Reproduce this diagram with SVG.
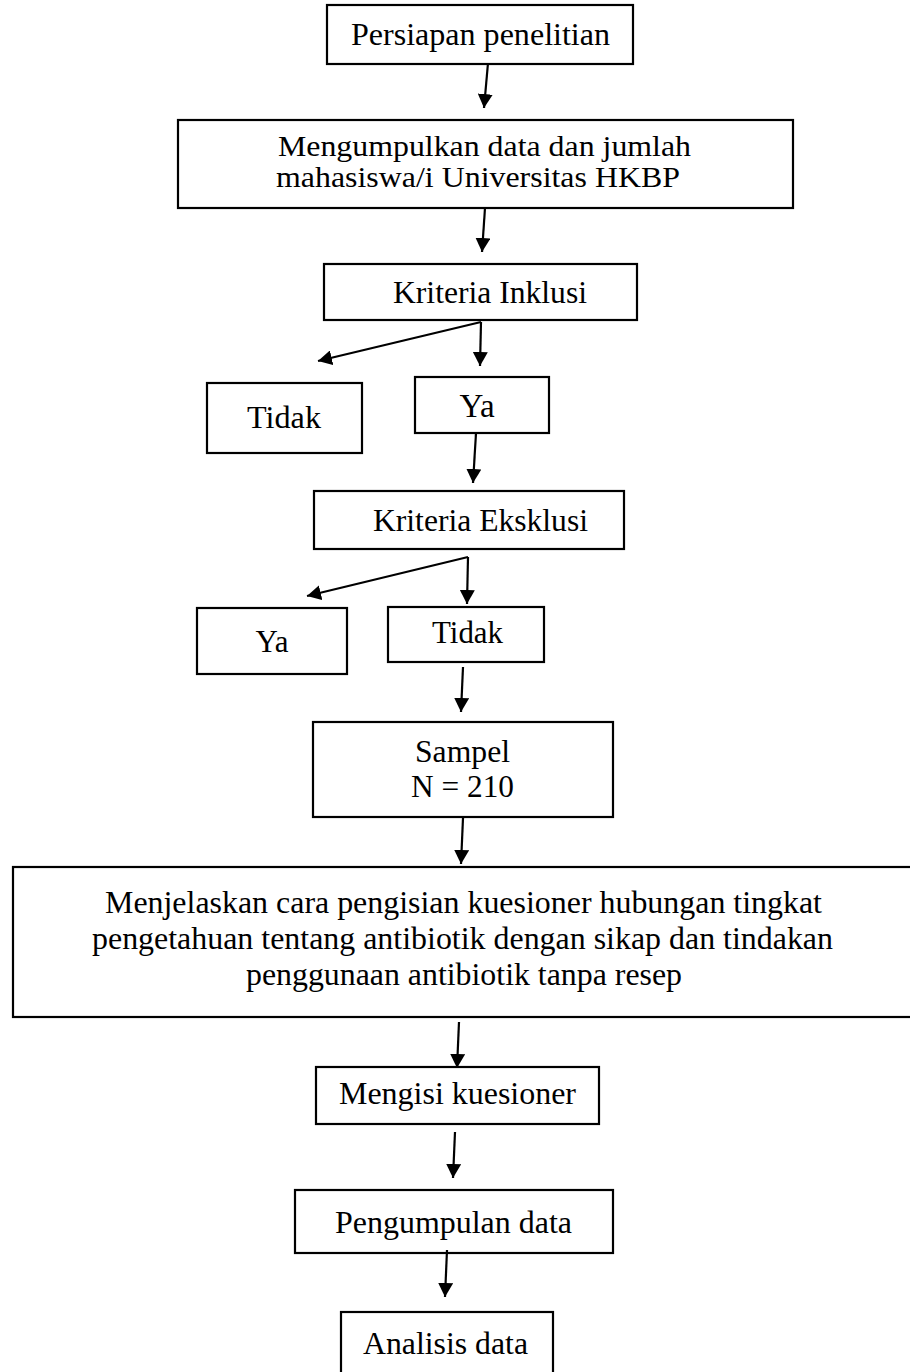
<svg xmlns="http://www.w3.org/2000/svg" width="910" height="1372" viewBox="0 0 910 1372">
<style>
.box{fill:#fff;stroke:#000;stroke-width:2.2}
.t{font-family:'Liberation Serif','Times New Roman',Times,serif;font-size:31px;fill:#000}
.s{font-size:29px}
.m{text-anchor:middle}
.c{fill:none;stroke:#000;stroke-width:2.2}
</style>
<defs>
<marker id="ah" viewBox="0 0 14 15" refX="14" refY="7.5" markerWidth="14" markerHeight="15" orient="auto" markerUnits="userSpaceOnUse">
<path d="M0,0 L14,7.5 L0,15 z" fill="#000"/>
</marker>
</defs>
<rect width="910" height="1372" fill="#fff"/>
<g id="n1"><rect class="box" x="327" y="5" width="306" height="59"/><text class="t" x="351" y="45" textLength="259" lengthAdjust="spacingAndGlyphs">Persiapan penelitian</text></g>
<g id="n2"><rect class="box" x="178" y="120" width="615" height="88"/><text class="t s" x="278" y="156" textLength="413" lengthAdjust="spacingAndGlyphs">Mengumpulkan data dan jumlah</text><text class="t s" x="276" y="187" textLength="404" lengthAdjust="spacingAndGlyphs">mahasiswa/i Universitas HKBP</text></g>
<g id="n3"><rect class="box" x="324" y="264" width="313" height="56"/><text class="t" x="393" y="303" textLength="194" lengthAdjust="spacingAndGlyphs">Kriteria Inklusi</text></g>
<g id="n4"><rect class="box" x="207" y="383" width="155" height="70"/><text class="t" x="247" y="428" textLength="74" lengthAdjust="spacingAndGlyphs">Tidak</text></g>
<g id="n5"><rect class="box" x="415" y="377" width="134" height="56"/><text class="t m" x="477" y="417" style="font-size:33px">Ya</text></g>
<g id="n6"><rect class="box" x="314" y="491" width="310" height="58"/><text class="t" x="373" y="531" textLength="215" lengthAdjust="spacingAndGlyphs">Kriteria Eksklusi</text></g>
<g id="n7"><rect class="box" x="197" y="608" width="150" height="66"/><text class="t m" x="272" y="652">Ya</text></g>
<g id="n8"><rect class="box" x="388" y="607" width="156" height="55"/><text class="t" x="432" y="643" textLength="71" lengthAdjust="spacingAndGlyphs">Tidak</text></g>
<g id="n9"><rect class="box" x="313" y="722" width="300" height="95"/><text class="t" x="415" y="762" textLength="95" lengthAdjust="spacingAndGlyphs">Sampel</text><text class="t" x="411" y="797" textLength="103" lengthAdjust="spacingAndGlyphs">N = 210</text></g>
<g id="n10"><rect class="box" x="13" y="867" width="910" height="150"/><text class="t" x="105" y="913" textLength="717" lengthAdjust="spacingAndGlyphs">Menjelaskan cara pengisian kuesioner hubungan tingkat</text><text class="t" x="92" y="949" textLength="741" lengthAdjust="spacingAndGlyphs">pengetahuan tentang antibiotik dengan sikap dan tindakan</text><text class="t" x="246" y="985" textLength="436" lengthAdjust="spacingAndGlyphs">penggunaan antibiotik tanpa resep</text></g>
<g id="n11"><rect class="box" x="316" y="1067" width="283" height="57"/><text class="t" x="339" y="1104" textLength="237" lengthAdjust="spacingAndGlyphs">Mengisi kuesioner</text></g>
<g id="n12"><rect class="box" x="295" y="1190" width="318" height="63"/><text class="t" x="335" y="1233" textLength="237" lengthAdjust="spacingAndGlyphs">Pengumpulan data</text></g>
<g id="n13"><rect class="box" x="341" y="1312" width="212" height="80"/><text class="t" x="363" y="1354" textLength="165" lengthAdjust="spacingAndGlyphs">Analisis data</text></g>
<g id="connectors">
<line class="c" x1="488" y1="63" x2="484" y2="108" marker-end="url(#ah)"/>
<line class="c" x1="485" y1="208" x2="482" y2="252" marker-end="url(#ah)"/>
<line class="c" x1="481" y1="322" x2="318" y2="361" marker-end="url(#ah)"/>
<line class="c" x1="481" y1="322" x2="480" y2="366" marker-end="url(#ah)"/>
<line class="c" x1="476" y1="433" x2="473" y2="483" marker-end="url(#ah)"/>
<line class="c" x1="468" y1="557" x2="307" y2="596" marker-end="url(#ah)"/>
<line class="c" x1="468" y1="557" x2="467" y2="604" marker-end="url(#ah)"/>
<line class="c" x1="463" y1="667" x2="461" y2="712" marker-end="url(#ah)"/>
<line class="c" x1="463" y1="818" x2="461" y2="864" marker-end="url(#ah)"/>
<line class="c" x1="459" y1="1022" x2="457" y2="1068" marker-end="url(#ah)"/>
<line class="c" x1="455" y1="1132" x2="453" y2="1178" marker-end="url(#ah)"/>
<line class="c" x1="447" y1="1250" x2="445" y2="1297" marker-end="url(#ah)"/>
</g>
</svg>
